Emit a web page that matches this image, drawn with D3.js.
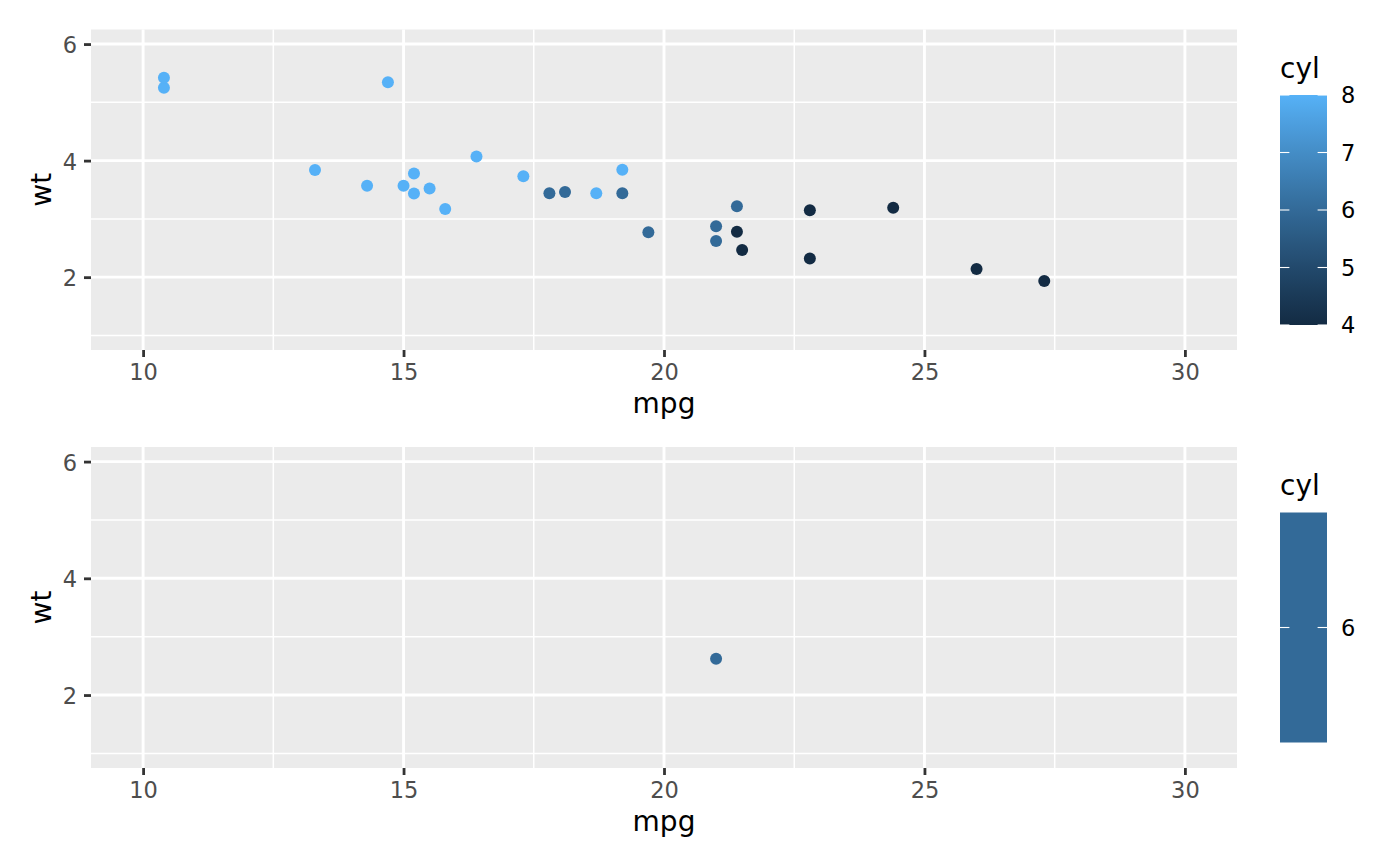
<!DOCTYPE html>
<html>
<head>
<meta charset="utf-8">
<script src="https://cdn.jsdelivr.net/npm/d3@7"></script>
<style>
  body { margin: 0; background: #ffffff; }
  svg { display: block; font-family: "DejaVu Sans", sans-serif; }
</style>
</head>
<body>
<svg width="1400" height="866"></svg>
<script>
// Data =====================================================

// top panel: mtcars rows with mpg inside the 10..30 limits
var mpgTop = [21.0, 21.0, 22.8, 21.4, 18.7, 18.1, 14.3, 24.4, 22.8, 19.2, 17.8,
              16.4, 17.3, 15.2, 10.4, 10.4, 14.7, 21.5, 15.5, 15.2, 13.3, 19.2,
              27.3, 26.0, 15.8, 19.7, 15.0, 21.4];
var wtTop = [2.620, 2.875, 2.320, 3.215, 3.440, 3.460, 3.570, 3.190, 3.150, 3.440, 3.440,
             4.070, 3.730, 3.780, 5.250, 5.424, 5.345, 2.465, 3.520, 3.435, 3.840, 3.845,
             1.935, 2.140, 3.170, 2.770, 3.570, 2.780];
var cylTop = [6, 6, 4, 6, 8, 6, 8, 4, 4, 6, 6,
              8, 8, 8, 8, 8, 8, 4, 8, 8, 8, 8,
              4, 4, 8, 6, 8, 4];

// bottom panel: a single car
var mpgBottom = [21.0];
var wtBottom = [2.620];
var cylBottom = [6];

var xMajor = [10, 15, 20, 25, 30];
var xMinor = [12.5, 17.5, 22.5, 27.5];
var yMajor = [2, 4, 6];
var yMinor = [1, 3, 5];
var xLimits = [10, 30];
var yLimits = [1, 6];

// globals ==================================================
var svg = d3.select("svg");
var lowColor = "#132B43", highColor = "#56B1F7";
var tickGrey = "#333333", labelGrey = "#4D4D4D";

var panelLeft = 91, panelRight = 1237;

function expand(lim) {
  var pad = (lim[1] - lim[0]) * 0.05;
  return [lim[0] - pad, lim[1] + pad];
}

// Helpers ==================================================

// draws one ggplot-style panel with its axes
function drawPanel(top, bottom, mpg, wt, cyl) {
  var x = d3.scaleLinear().domain(expand(xLimits)).range([panelLeft, panelRight]);
  var y = d3.scaleLinear().domain(expand(yLimits)).range([bottom, top]);

  var cylDomain = d3.extent(cyl);
  var colorT = d3.scaleLinear().domain(cylDomain).range([0, 1]);
  var interp = d3.interpolateLab(lowColor, highColor);
  var color = function(v) {
    if (cylDomain[0] == cylDomain[1]) return interp(0.5);
    return interp(colorT(v));
  };

  var g = svg.append("g");

  g.append("rect")
    .attr("x", panelLeft).attr("y", top)
    .attr("width", panelRight - panelLeft).attr("height", bottom - top)
    .attr("fill", "#EBEBEB");

  // minor grid
  g.selectAll(".xminor").data(xMinor).enter().append("line")
    .attr("x1", x).attr("x2", x).attr("y1", top).attr("y2", bottom)
    .attr("stroke", "#ffffff").attr("stroke-width", 1.5);
  g.selectAll(".yminor").data(yMinor).enter().append("line")
    .attr("y1", y).attr("y2", y).attr("x1", panelLeft).attr("x2", panelRight)
    .attr("stroke", "#ffffff").attr("stroke-width", 1.5);

  // major grid
  g.selectAll(".xmajor").data(xMajor).enter().append("line")
    .attr("x1", x).attr("x2", x).attr("y1", top).attr("y2", bottom)
    .attr("stroke", "#ffffff").attr("stroke-width", 2.9);
  g.selectAll(".ymajor").data(yMajor).enter().append("line")
    .attr("y1", y).attr("y2", y).attr("x1", panelLeft).attr("x2", panelRight)
    .attr("stroke", "#ffffff").attr("stroke-width", 2.9);

  // points
  var idx = d3.range(mpg.length);
  g.selectAll("circle").data(idx).enter().append("circle")
    .attr("cx", function(i) { return x(mpg[i]); })
    .attr("cy", function(i) { return y(wt[i]); })
    .attr("r", 6)
    .attr("fill", function(i) { return color(cyl[i]); });

  // axes
  var xAxis = g.append("g")
    .attr("transform", "translate(0," + bottom + ")")
    .call(d3.axisBottom(x).tickValues(xMajor).tickFormat(d3.format("d"))
      .tickSize(7).tickPadding(7));
  var yAxis = g.append("g")
    .attr("transform", "translate(" + panelLeft + ",0)")
    .call(d3.axisLeft(y).tickValues(yMajor).tickFormat(d3.format("d"))
      .tickSize(7).tickPadding(7));

  [xAxis, yAxis].forEach(function(a) {
    a.select(".domain").remove();
    a.selectAll(".tick line").attr("stroke", tickGrey).attr("stroke-width", 2.8);
    a.selectAll(".tick text")
      .attr("fill", labelGrey)
      .style("font-size", "22.5px")
      .style("font-family", "DejaVu Sans");
  });
  yAxis.selectAll(".tick text").attr("dy", "0.38em");

  // axis titles
  g.append("text")
    .attr("x", (panelLeft + panelRight) / 2)
    .attr("y", bottom + 63)
    .attr("text-anchor", "middle")
    .style("font-size", "28px")
    .text("mpg");
  g.append("text")
    .attr("transform", "translate(51," + ((top + bottom) / 2) + ") rotate(-90)")
    .attr("text-anchor", "middle")
    .style("font-size", "28px")
    .text("wt");

  drawLegend(top, cyl, color, cylDomain);
}

// continuous colour bar legend
function drawLegend(top, cyl, color, cylDomain) {
  var barLeft = 1280, barWidth = 47, barHeight = 230;
  var barTop = top + 65.5;
  var lg = svg.append("g");

  lg.append("text")
    .attr("x", barLeft)
    .attr("y", top + 48)
    .style("font-size", "28px")
    .text("cyl");

  var ticks, scale;
  if (cylDomain[0] == cylDomain[1]) {
    ticks = [cylDomain[0]];
    scale = function() { return barTop + barHeight / 2; };
  } else {
    ticks = d3.range(cylDomain[0], cylDomain[1] + 1);
    scale = d3.scaleLinear().domain(cylDomain).range([barTop + barHeight, barTop]);
  }

  var gradId = "grad" + Math.round(top);
  var grad = svg.append("defs").append("linearGradient")
    .attr("id", gradId)
    .attr("x1", 0).attr("y1", 1).attr("x2", 0).attr("y2", 0);
  var stops = d3.range(0, 1.0001, 0.05);
  grad.selectAll("stop").data(stops).enter().append("stop")
    .attr("offset", function(d) { return d; })
    .attr("stop-color", function(d) {
      return color(cylDomain[0] + d * (cylDomain[1] - cylDomain[0]));
    });

  lg.append("rect")
    .attr("x", barLeft).attr("y", barTop)
    .attr("width", barWidth).attr("height", barHeight)
    .attr("fill", "url(#" + gradId + ")");

  ticks.forEach(function(t) {
    var ty = scale(t);
    lg.append("line")
      .attr("x1", barLeft).attr("x2", barLeft + 9.4)
      .attr("y1", ty).attr("y2", ty)
      .attr("stroke", "#ffffff").attr("stroke-width", 1.1);
    lg.append("line")
      .attr("x1", barLeft + barWidth - 9.4).attr("x2", barLeft + barWidth)
      .attr("y1", ty).attr("y2", ty)
      .attr("stroke", "#ffffff").attr("stroke-width", 1.1);
    lg.append("text")
      .attr("x", barLeft + barWidth + 14)
      .attr("y", ty)
      .attr("dy", "0.36em")
      .style("font-size", "22.5px")
      .text(t);
  });
}

// Main =====================================================
drawPanel(29.5, 350, mpgTop, wtTop, cylTop);
drawPanel(447, 768, mpgBottom, wtBottom, cylBottom);
</script>
</body>
</html>
